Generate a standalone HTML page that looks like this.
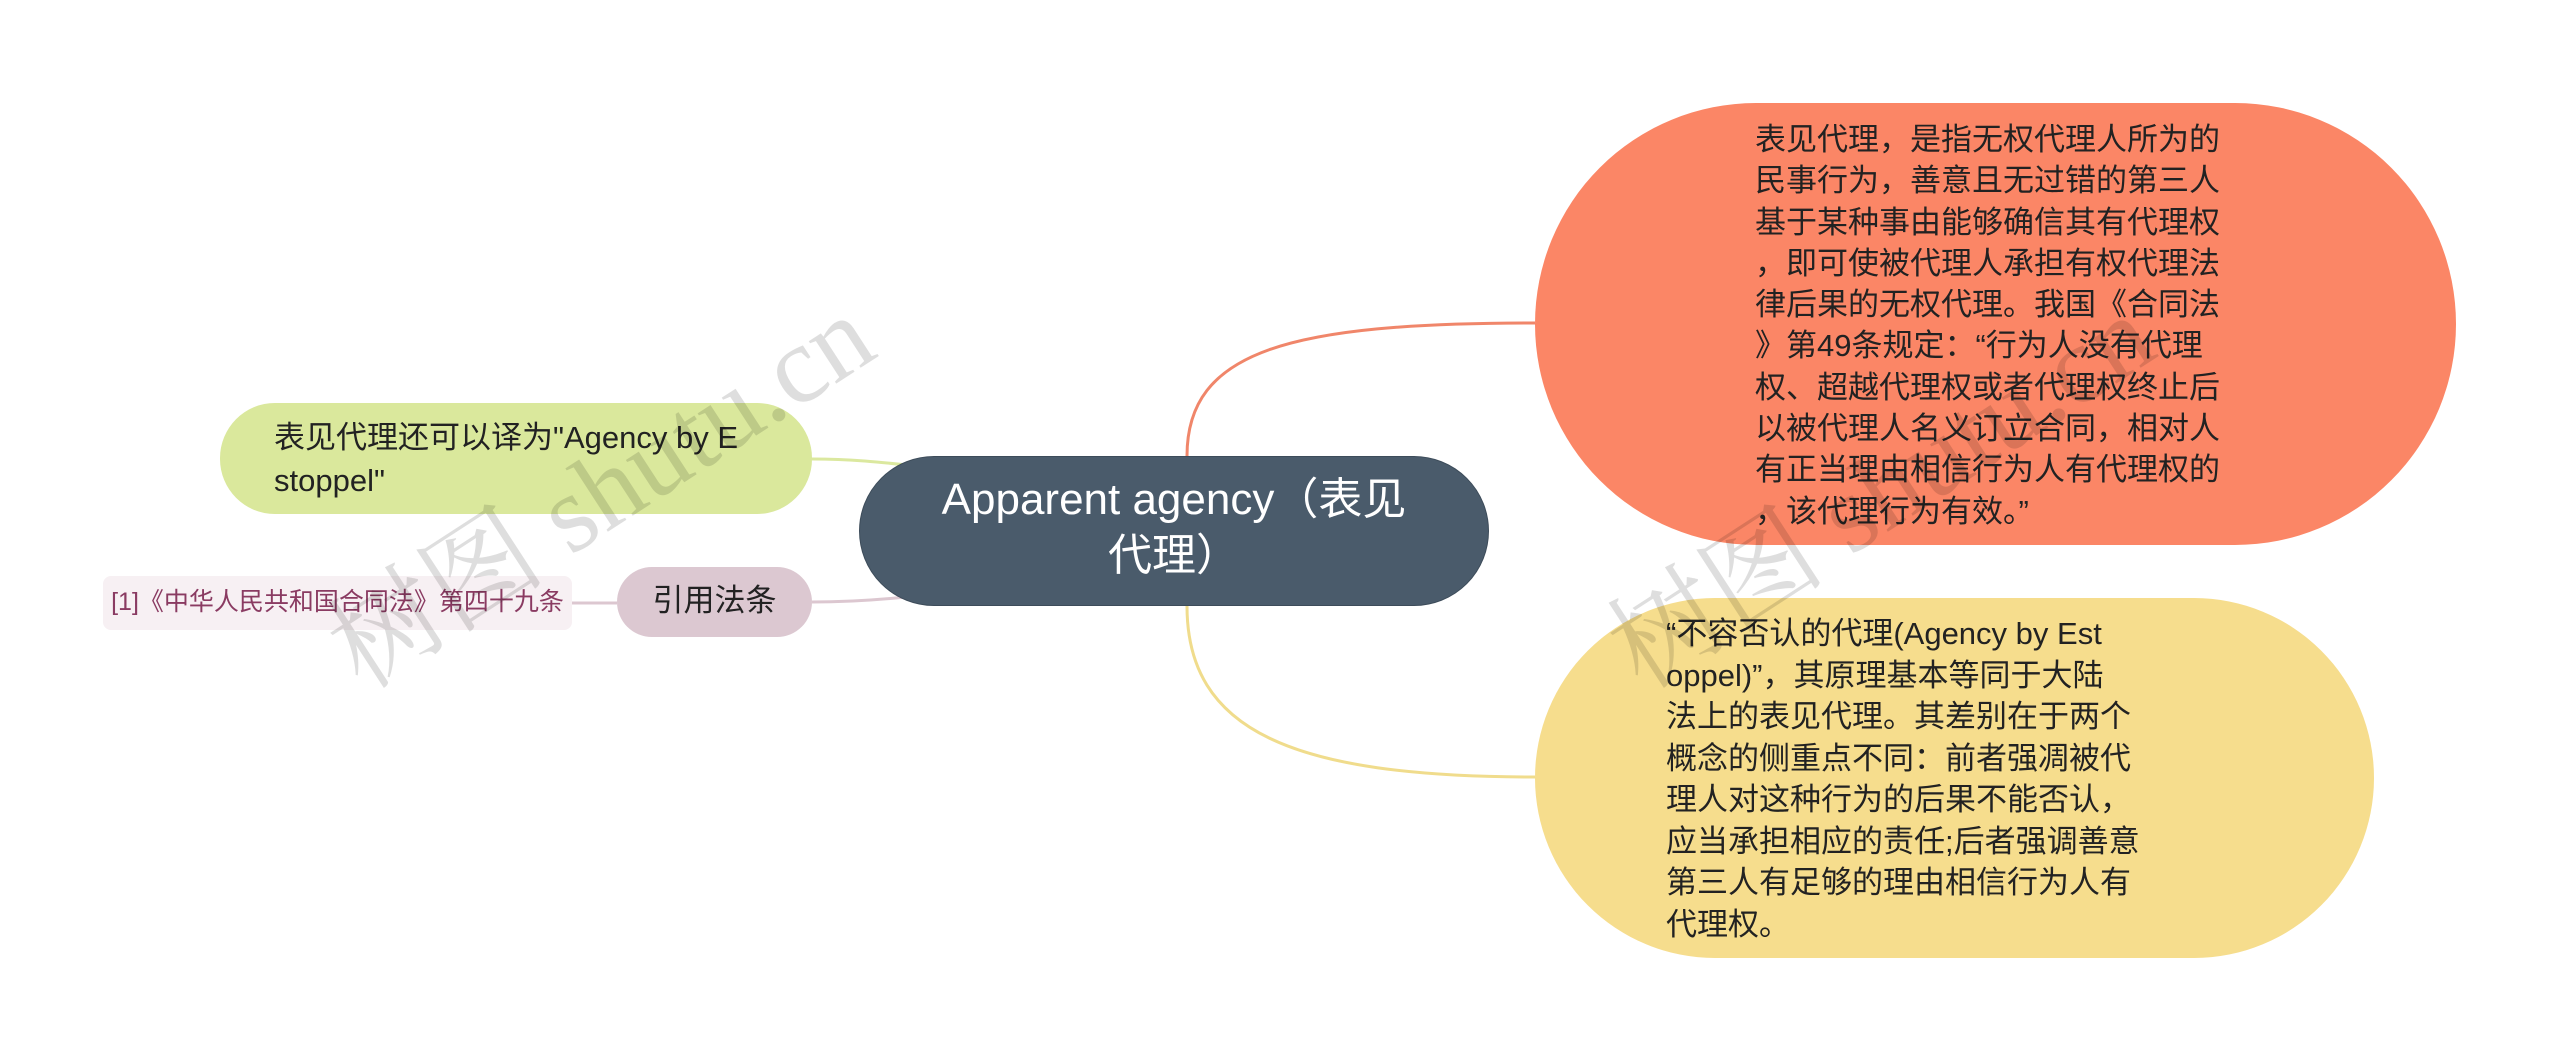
<!DOCTYPE html>
<html><head><meta charset="utf-8"><style>
html,body{margin:0;padding:0;background:#fff;}
body{width:2560px;height:1061px;position:relative;overflow:hidden;font-family:"Liberation Sans","Noto Sans CJK SC",sans-serif;}
.n{position:absolute;box-sizing:border-box;}
.t{position:absolute;white-space:nowrap;color:#222;}
.wm{position:absolute;font-family:"Liberation Serif","Noto Serif CJK SC",serif;font-size:110px;color:rgba(0,0,0,0.13);transform:rotate(-33deg);transform-origin:left bottom;white-space:nowrap;}
</style></head><body>
<svg width="2560" height="1061" style="position:absolute;left:0;top:0">
<path d="M1187,456 C1187,350 1290,323 1535,323" fill="none" stroke="#f0866a" stroke-width="3"/>
<path d="M1187,606 C1187,730 1290,777 1535,777" fill="none" stroke="#f0dc8c" stroke-width="3"/>
<path d="M812,459 C850,459 880,462 915,466" fill="none" stroke="#dbe89f" stroke-width="3"/>
<path d="M812,602 C850,602 880,600 915,596" fill="none" stroke="#dcc7d0" stroke-width="3"/>
<path d="M572,603 L617,603" fill="none" stroke="#dcc7d0" stroke-width="3"/>
</svg>
<div class="n" style="left:859px;top:456px;width:630px;height:150px;background:#4a5b6b;border-radius:75px;border:1px solid #3d4c5a;"></div>
<div class="t" style="left:859px;width:630px;top:472px;text-align:center;color:#fff;font-size:44px;line-height:56px;">Apparent agency（表见<br>代理）</div>

<div class="n" style="left:1535px;top:103px;width:921px;height:442px;background:#fb8666;border-radius:221px;"></div>
<div class="t" style="left:1755px;top:119px;font-size:31px;line-height:41.3px;">表见代理，是指无权代理人所为的<br>民事行为，善意且无过错的第三人<br>基于某种事由能够确信其有代理权<br>，即可使被代理人承担有权代理法<br>律后果的无权代理。我国《合同法<br>》第49条规定：“行为人没有代理<br>权、超越代理权或者代理权终止后<br>以被代理人名义订立合同，相对人<br>有正当理由相信行为人有代理权的<br>，该代理行为有效。”</div>

<div class="n" style="left:1535px;top:598px;width:839px;height:360px;background:#f6dd8d;border-radius:180px;"></div>
<div class="t" style="left:1666px;top:613px;font-size:31px;line-height:41.5px;">“不容否认的代理(Agency by Est<br>oppel)”，其原理基本等同于大陆<br>法上的表见代理。其差别在于两个<br>概念的侧重点不同：前者强凋被代<br>理人对这种行为的后果不能否认，<br>应当承担相应的责任;后者强调善意<br>第三人有足够的理由相信行为人有<br>代理权。</div>

<div class="n" style="left:220px;top:403px;width:592px;height:111px;background:#dae89c;border-radius:55px;"></div>
<div class="t" style="left:274px;top:416px;font-size:31px;line-height:43px;">表见代理还可以译为"Agency by E<br>stoppel"</div>

<div class="n" style="left:617px;top:567px;width:195px;height:70px;background:#dcc8d1;border-radius:35px;"></div>
<div class="t" style="left:617px;width:195px;top:581px;text-align:center;font-size:31px;line-height:40px;">引用法条</div>

<div class="n" style="left:103px;top:576px;width:469px;height:54px;background:#f7f0f3;border-radius:8px;"></div>
<div class="t" style="left:103px;width:469px;top:587px;text-align:center;font-size:25px;line-height:30px;color:#8a3b62;">[1]《中华人民共和国合同法》第四十九条</div>

<div class="wm" style="left:380px;top:560px;">树图 shutu.cn</div>
<div class="wm" style="left:1660px;top:560px;">树图 shutu.cn</div>
</body></html>
